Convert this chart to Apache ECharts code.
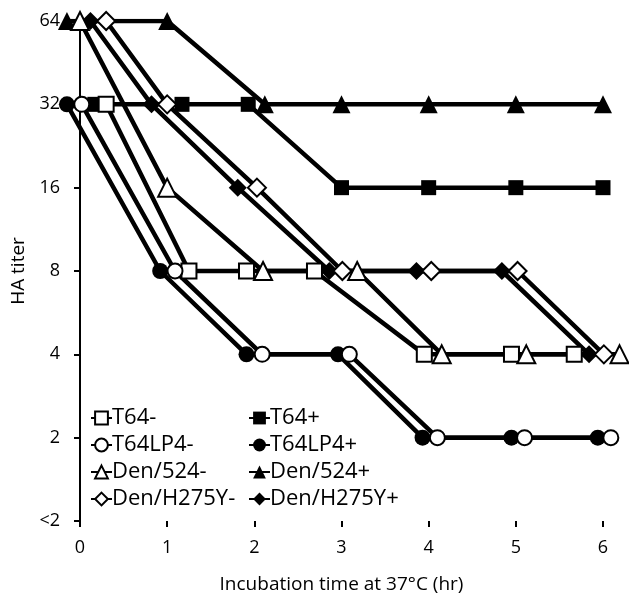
<!DOCTYPE html>
<html>
<head>
<meta charset="utf-8">
<script src="https://cdn.jsdelivr.net/npm/echarts@6/dist/echarts.min.js"></script>
<style>
  html, body { margin: 0; padding: 0; background: #fff; }
  #chart { width: 629px; height: 596px; }
</style>
</head>
<body>
<div id="chart"></div>
<script>
// HA titer 轴（等距的对数刻度）
var yLabels = ['<2', '2', '4', '8', '16', '32', '64'];

// 每条线: [时间(hr), 滴度]
var t64Minus      = [[0.30, '32'], [1.25, '8'], [1.91, '8'], [2.69, '8'], [3.95, '4'], [4.95, '4'], [5.67, '4']];
var t64Plus       = [[0.17, '32'], [1.17, '32'], [1.93, '32'], [3.00, '16'], [4.00, '16'], [5.00, '16'], [6.00, '16']];
var t64lp4Minus   = [[0.02, '32'], [1.09, '8'], [2.09, '4'], [3.09, '4'], [4.10, '2'], [5.10, '2'], [6.09, '2']];
var t64lp4Plus    = [[-0.15, '32'], [0.92, '8'], [1.91, '4'], [2.96, '4'], [3.93, '2'], [4.95, '2'], [5.94, '2']];
var den524Minus   = [[0.00, '64'], [1.00, '16'], [2.10, '8'], [3.18, '8'], [4.15, '4'], [5.12, '4'], [6.19, '4']];
var den524Plus    = [[-0.15, '64'], [1.00, '64'], [2.12, '32'], [3.00, '32'], [4.00, '32'], [5.00, '32'], [6.00, '32']];
var h275yMinus    = [[0.30, '64'], [1.00, '32'], [2.03, '16'], [3.01, '8'], [4.03, '8'], [5.02, '8'], [6.01, '4']];
var h275yPlus     = [[0.12, '64'], [0.82, '32'], [1.81, '16'], [2.86, '8'], [3.86, '8'], [4.84, '8'], [5.84, '4']];

var FONT = '"Open Sans", "Noto Sans", sans-serif';

function mkLine(name, data, symbol, size, filled) {
    return {
        name: name,
        type: 'line',
        data: data,
        clip: false,
        symbol: symbol,
        symbolSize: size,
        showAllSymbol: true,
        lineStyle: { color: '#000', width: 4.5 },
        itemStyle: {
            color: filled ? '#000' : '#fff',
            borderColor: '#000',
            borderWidth: filled ? 0 : 2
        },
        emphasis: { disabled: true },
        animation: false
    };
}

var myChart = echarts.init(document.getElementById('chart'));

var legendText = { fontFamily: FONT, fontSize: 22, color: '#000', lineHeight: 24, padding: [0, 0, 0, -5] };

var option = {
    backgroundColor: '#fff',
    grid: { left: 80, right: 26, top: 21, bottom: 75, outerBoundsMode: 'none', containLabel: false },
    xAxis: {
        type: 'value',
        min: 0, max: 6, interval: 1,
        name: 'Incubation time at 37°C (hr)',
        nameLocation: 'middle',
        nameGap: 54,
        nameTextStyle: { fontFamily: FONT, fontSize: 19, color: '#000' },
        axisLine: { onZero: false, lineStyle: { color: '#000', width: 2 } },
        axisTick: { show: true, inside: false, length: 6, lineStyle: { color: '#000', width: 2 } },
        axisLabel: { fontFamily: FONT, fontSize: 18, color: '#000', margin: 18 },
        splitLine: { show: false }
    },
    yAxis: {
        type: 'category',
        data: yLabels,
        boundaryGap: false,
        name: 'HA titer',
        nameLocation: 'middle',
        nameGap: 50,
        nameRotate: 90,
        nameTextStyle: { fontFamily: FONT, fontSize: 19, color: '#000' },
        axisLine: { lineStyle: { color: '#000', width: 2 } },
        axisTick: { show: true, alignWithLabel: true, length: 6, lineStyle: { color: '#000', width: 2 } },
        axisLabel: { fontFamily: FONT, fontSize: 18, color: '#000', margin: 20 },
        splitLine: { show: false }
    },
    legend: [{
        orient: 'vertical',
        left: 85, top: 401,
        itemWidth: 21, itemHeight: 16, itemGap: 3,
        textStyle: legendText,
        data: ['T64-', 'T64LP4-', 'Den/524-', 'Den/H275Y-']
    }, {
        orient: 'vertical',
        left: 243, top: 401,
        itemWidth: 21, itemHeight: 16, itemGap: 3,
        textStyle: legendText,
        data: ['T64+', 'T64LP4+', 'Den/524+', 'Den/H275Y+']
    }],
    series: [
        mkLine('T64+', t64Plus, 'rect', 15, true),
        mkLine('T64LP4+', t64lp4Plus, 'circle', 16, true),
        mkLine('Den/524+', den524Plus, 'triangle', 18, true),
        mkLine('Den/H275Y+', h275yPlus, 'diamond', 18, true),
        mkLine('T64-', t64Minus, 'rect', 15, false),
        mkLine('T64LP4-', t64lp4Minus, 'circle', 15, false),
        mkLine('Den/524-', den524Minus, 'triangle', 18, false),
        mkLine('Den/H275Y-', h275yMinus, 'diamond', 18, false)
    ]
};

myChart.setOption(option);
</script>
</body>
</html>
